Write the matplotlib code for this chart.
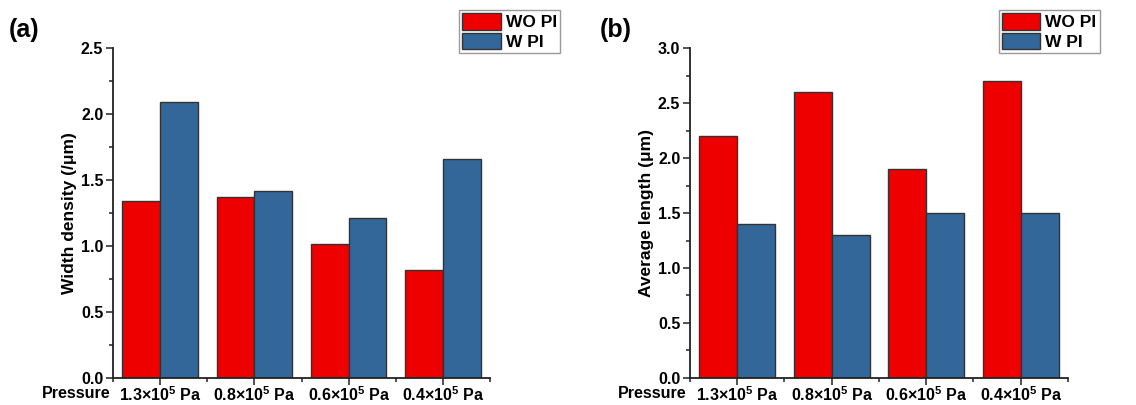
import numpy as np
import matplotlib
matplotlib.use("Agg")
import matplotlib.pyplot as plt
from matplotlib.ticker import MultipleLocator, FixedLocator

plt.rcParams['font.family'] = ['Liberation Sans', 'DejaVu Sans']
plt.rcParams['font.weight'] = 'bold'
plt.rcParams['mathtext.fontset'] = 'custom'
plt.rcParams['mathtext.rm'] = 'Liberation Sans:bold'
plt.rcParams['mathtext.bf'] = 'Liberation Sans:bold'
plt.rcParams['mathtext.default'] = 'bf'

# data
pressures = [r'1.3×10$^5$ Pa', r'0.8×10$^5$ Pa', r'0.6×10$^5$ Pa', r'0.4×10$^5$ Pa']
series = ['WO PI', 'W PI']
width_wo = [1.34, 1.37, 1.015, 0.818]
width_w = [2.09, 1.42, 1.215, 1.66]
length_wo = [2.2, 2.6, 1.9, 2.7]
length_w = [1.4, 1.3, 1.5, 1.5]

red = '#EE0000'
blue = '#336699'

fig = plt.figure(figsize=(11.36, 4.05), dpi=100)
ax1 = fig.add_axes([0.0995, 0.067, 0.332, 0.814])
ax2 = fig.add_axes([0.6074, 0.067, 0.3327, 0.814])

x = np.arange(1, len(pressures) + 1)
bw = 0.4


def draw(ax, wo, w, ymax, ylabel, legend_x):
    b1 = ax.bar(x - bw / 2, wo, bw, color=red, edgecolor='#333333', lw=1, label=series[0])
    b2 = ax.bar(x + bw / 2, w, bw, color=blue, edgecolor='#333333', lw=1, label=series[1])
    ax.set_xlim(0.5, 4.5)
    ax.set_ylim(0, ymax)
    ax.yaxis.set_major_locator(MultipleLocator(0.5))
    ax.yaxis.set_minor_locator(MultipleLocator(0.25))
    ax.set_xticks(x)
    ax.set_xticklabels(pressures)
    ax.xaxis.set_minor_locator(FixedLocator(np.arange(0.5, 4.6, 1.0)))
    ax.yaxis.set_major_formatter(matplotlib.ticker.FormatStrFormatter('%.1f'))
    ax.tick_params(which='major', length=5, width=1.2, color='#333333', labelsize=11.5)
    ax.tick_params(axis='x', which='major', pad=0.5)
    ax.tick_params(axis='y', which='major', pad=2)
    ax.tick_params(which='minor', length=3, width=1.2, color='#333333')
    for s in ['top', 'right']:
        ax.spines[s].set_visible(False)
    for s in ['left', 'bottom']:
        ax.spines[s].set_linewidth(1.3)
        ax.spines[s].set_color('#222222')
    for lab in ax.get_xticklabels() + ax.get_yticklabels():
        lab.set_fontweight('bold')
    ax.set_ylabel(ylabel, fontsize=12.5, fontweight='bold', labelpad=3)
    ax.text(-0.008, -0.048, 'Pressure', transform=ax.transAxes, ha='right', va='center',
            fontsize=11.5, fontweight='bold')
    ax.legend(handles=[b1, b2], loc='upper left', bbox_to_anchor=(legend_x, 0.976),
              bbox_transform=fig.transFigure, frameon=True, fancybox=False,
              edgecolor='#999999', framealpha=1, borderpad=0.2, labelspacing=0.12,
              handlelength=2.2, handleheight=1.1, handletextpad=0.3, borderaxespad=0,
              prop={'size': 12.5, 'weight': 'bold'})


draw(ax1, width_wo, width_w, 2.5, 'Width density (/μm)', 0.404)
draw(ax2, length_wo, length_w, 3.0, 'Average length (μm)', 0.879)

fig.text(0.008, 0.925, '(a)', fontsize=18, fontweight='bold', va='center')
fig.text(0.528, 0.925, '(b)', fontsize=18, fontweight='bold', va='center')

fig.savefig('out.png', dpi=100)
